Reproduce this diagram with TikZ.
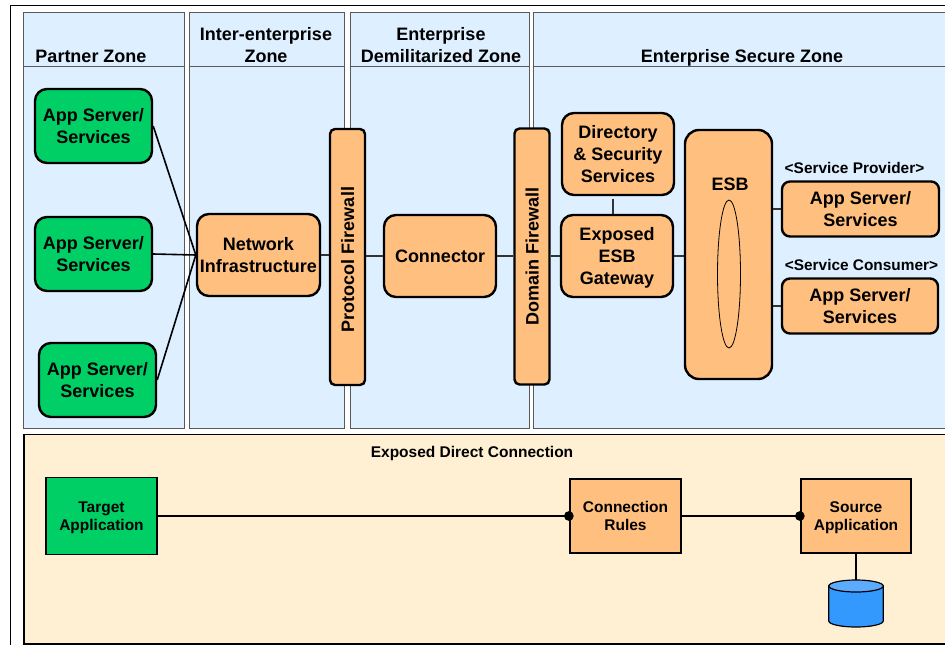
\documentclass[tikz,border=0pt]{standalone}
\usepackage{fontspec}
\setmainfont{Liberation Sans}
\usetikzlibrary{shapes.geometric,arrows.meta}

\definecolor{zoneblue}{HTML}{DEEFFF}
\definecolor{lowcream}{HTML}{FFF0D4}
\definecolor{boxorange}{HTML}{FFC07F}
\definecolor{boxgreen}{HTML}{00CF66}
\definecolor{dbblue}{HTML}{3399FF}
\definecolor{dbtop}{HTML}{5CABFF}

\tikzset{
	zone/.style={draw=black!65, line width=0.9pt, fill=zoneblue, minimum height=416pt},
	zonehead/.style={draw=black!65, line width=0.9pt, minimum height=54pt},
	zonetitle/.style={font=\bfseries\fontsize{18}{22}\selectfont, align=center, inner sep=0pt, text depth=0pt},
	server/.style={draw, line width=2.4pt, rounded corners=12pt, font=\bfseries\fontsize{18}{22}\selectfont, align=center, inner sep=0pt, text depth=0pt},
	orangebox/.style={server, fill=boxorange},
	greenbox/.style={server, fill=boxgreen, minimum width=117pt, minimum height=74pt},
	firewall/.style={orangebox, rotate=90, rounded corners=5pt, minimum width=256pt, minimum height=35pt},
	rolelabel/.style={font=\bfseries\fontsize{15.4}{18}\selectfont, inner sep=0pt},
	square/.style={draw, line width=1.8pt, font=\bfseries\fontsize{15.5}{18}\selectfont, align=center, inner sep=0pt, text depth=0pt, minimum height=74pt},
	link/.style={line width=1.6pt},
	thinlink/.style={line width=1.2pt, draw=black!80},
	lowlink/.style={line width=2.5pt, -{Circle[length=9.5pt]}, shorten >=-4.5pt}
}

\begin{document}
\begin{tikzpicture}[x=1pt,y=-1pt]
	\clip (0,0) rectangle (945,645);
	\fill[white] (0,0) rectangle (945,645);
	\node[draw, line width=1.2pt, minimum width=960pt, minimum height=660pt, anchor=north west] (frame) at (9.5,4.5) {};

	% zones
	\node[zone, minimum width=161pt] (partner) at (104,220.5) {};
	\node[zone, minimum width=155pt] (inter) at (267,220.5) {};
	\node[zone, minimum width=179pt] (dmz) at (440,220.5) {};
	\node[zone, minimum width=430pt] (secure) at (748,220.5) {};
	\node[zonehead, minimum width=161pt] (partnerhead) at (104,39.5) {};
	\node[zonehead, minimum width=155pt] (interhead) at (267,39.5) {};
	\node[zonehead, minimum width=179pt] (dmzhead) at (440,39.5) {};
	\node[zonehead, minimum width=430pt] (securehead) at (748,39.5) {};
	\node[zonetitle] (partnertitle) at (91,56) {Partner Zone};
	\node[zonetitle] (intertitle) at (266,44.5) {Inter-enterprise\\Zone};
	\node[zonetitle] (dmztitle) at (441,44.5) {Enterprise\\Demilitarized Zone};
	\node[zonetitle] (securetitle) at (742,56) {Enterprise Secure Zone};

	\node[draw, line width=1.8pt, fill=lowcream, minimum width=940pt, minimum height=209.5pt, anchor=north west] (direct) at (23,433.5) {};
	\node[font=\bfseries\fontsize{15.5}{18}\selectfont, inner sep=0pt] (directtitle) at (472,453.5) {Exposed Direct Connection};

	% upper row
	\node[greenbox] (partnerone) at (93.5,126) {App Server/\\Services};
	\node[greenbox] (partnertwo) at (93.5,254) {App Server/\\Services};
	\node[greenbox] (partnerthree) at (97.5,380) {App Server/\\Services};
	\node[orangebox, minimum width=123pt, minimum height=82pt] (network) at (258.5,255) {Network\\Infrastructure};
	\node[firewall] (protocol) at (347.5,257) {Protocol Firewall\hspace*{5pt}};
	\node[orangebox, minimum width=112pt, minimum height=82pt] (connector) at (440,256) {Connector};
	\node[firewall] (domain) at (532,256.5) {Domain Firewall};
	\node[orangebox, minimum width=112pt, minimum height=82pt] (directory) at (618,154) {Directory\\\& Security\\Services};
	\node[orangebox, minimum width=112pt, minimum height=82pt] (gateway) at (617,256) {Exposed\\ESB\\Gateway};
	\node[orangebox, rounded corners=14pt, minimum width=87pt, minimum height=249pt] (esb) at (728.5,254.5) {};
	\node[zonetitle] (esblabel) at (730,184) {ESB};
	\node[draw, line width=0.8pt, ellipse, inner sep=0pt, minimum width=23pt, minimum height=148pt] (bus) at (729,274) {};
	\node[orangebox, rounded corners=8pt, minimum width=157pt, minimum height=55pt] (provider) at (860.5,209) {App Server/\\Services};
	\node[orangebox, rounded corners=8pt, minimum width=156pt, minimum height=55pt] (consumer) at (860,306) {App Server/\\Services};
	\node[rolelabel] (providerlabel) at (854.5,168) {<Service Provider>};
	\node[rolelabel] (consumerlabel) at (861.5,265) {<Service Consumer>};

	% lower row
	\node[square, fill=boxgreen, minimum width=111pt, minimum height=77pt] (target) at (101.5,516) {Target\\Application};
	\node[square, fill=boxorange, minimum width=111pt] (rules) at (625.5,516) {Connection\\Rules};
	\node[square, fill=boxorange, minimum width=110pt] (source) at (856,516) {Source\\Application};

	% database
	\coordinate (db) at (856,580);
	\draw[line width=1.2pt, fill=dbblue] (828.75,586) -- (828.75,621) arc[start angle=180, end angle=0, x radius=27.25, y radius=6] -- (883.25,586) -- cycle;
	\draw[line width=1.2pt, fill=dbtop] (856,586) ellipse [x radius=27.25, y radius=6];

	\draw[link] (partnerone.east) -- (network.west);
	\draw[link] (partnertwo.east) -- (network.west);
	\draw[link] (partnerthree.east) -- (network.west);
	\draw[thinlink] (network.east) -- (network.east -| protocol.north);
	\draw[thinlink] (connector.west) -- (connector.west -| protocol.south);
	\draw[thinlink] (connector.east) -- (connector.east -| domain.north);
	\draw[thinlink] (gateway.west) -- (gateway.west -| domain.south);
	\draw[thinlink] ([xshift=-5pt,yshift=-3pt]directory.south) -- ([xshift=-4pt]gateway.north);
	\draw[thinlink] (gateway.east) -- (gateway.east -| esb.west);
	\draw[thinlink] (provider.west) -- (provider.west -| esb.east);
	\draw[thinlink] (consumer.west) -- (consumer.west -| esb.east);
	\draw[lowlink] (target.east) -- (rules.west);
	\draw[lowlink] (rules.east) -- (source.west);
	\draw[line width=1.5pt] (source.south) -- (db);
\end{tikzpicture}
\end{document}
